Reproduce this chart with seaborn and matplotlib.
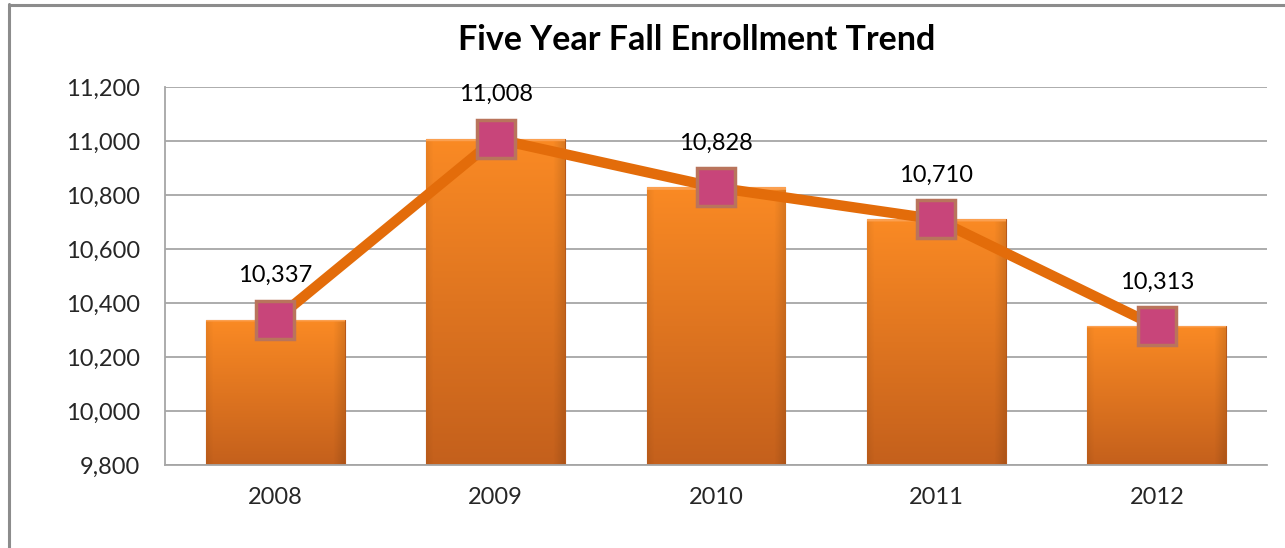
import matplotlib
matplotlib.use('Agg')
import matplotlib.pyplot as plt
import seaborn as sns
import numpy as np
from matplotlib.lines import Line2D
from matplotlib.ticker import FuncFormatter, FixedLocator

# data
years = ['2008', '2009', '2010', '2011', '2012']
enrollment = [10337, 11008, 10828, 10710, 10313]
y_ticks = [9800, 10000, 10200, 10400, 10600, 10800, 11000, 11200]

sns.set_style('white')
plt.rcParams['font.family'] = ['Lato', 'DejaVu Sans']

W, H = 1285, 548
fig = plt.figure(figsize=(W / 100, H / 100), dpi=100)
ax = fig.add_axes([165 / W, 1 - 465 / H, (1267 - 165) / W, (465 - 87) / H])

# bars
sns.barplot(x=years, y=enrollment, color='#F07F1E', width=0.63, ax=ax, zorder=2)
ymin, ymax = y_ticks[0], y_ticks[-1]

# gradient fill for the bars (lighter top, darker bottom, shaded sides)
top = np.array([250, 138, 36]) / 255
bot = np.array([196, 96, 28]) / 255
ny, nx = 300, 100
t = np.linspace(0, 1, ny)[:, None, None]
img = top * (1 - t) + bot * t
xx = np.linspace(0, 1, nx)
side = 1 - 0.12 * np.clip((xx - 0.92) / 0.08, 0, 1) - 0.06 * np.clip((0.05 - xx) / 0.05, 0, 1)
img = img * side[None, :, None]
img[:3] = np.array([251, 160, 80]) / 255
img = np.clip(img, 0, 1)
for patch in ax.patches:
    x0 = patch.get_x()
    w = patch.get_width()
    h = patch.get_y() + patch.get_height()
    patch.set_edgecolor('#B8591A')
    patch.set_linewidth(0.8)
    im = ax.imshow(img, extent=[x0, x0 + w, ymin, h], aspect='auto', zorder=2.1)
    im.set_clip_path(patch)

# trend line with square markers
sns.pointplot(x=years, y=enrollment, color='#E36C0A', markers='s',
              linestyles='-', errorbar=None, ax=ax)
line = ax.lines[-1]
line.set_linewidth(7.5)
line.set_markersize(28)
line.set_markerfacecolor('#C8457A')
line.set_markeredgecolor('#B9745C')
line.set_markeredgewidth(2.5)
line.set_zorder(5)

for i, v in enumerate(enrollment):
    ax.annotate(f'{v:,}', xy=(i, v), xytext=(0, 32), textcoords='offset points',
                ha='center', va='center', fontsize=17, color='black', zorder=6)

ax.set_xlim(-0.5, len(years) - 0.5)
ax.set_ylim(ymin, ymax)
ax.set_yticks(y_ticks)
ax.yaxis.set_major_formatter(FuncFormatter(lambda v, p: f'{v:,.0f}'))
ax.yaxis.grid(True, color='#A6A6A6', linewidth=1.3)
ax.set_axisbelow(True)
ax.set_xlabel('')
ax.set_ylabel('')

ax.xaxis.set_minor_locator(FixedLocator(np.arange(-0.5, len(years), 1.0)))
ax.tick_params(axis='x', which='major', length=0, pad=16, labelsize=17)
ax.tick_params(axis='x', which='minor', length=6, width=1.3, color='#A6A6A6', direction='out')
ax.tick_params(axis='y', length=6, width=1.3, color='#A6A6A6', direction='out',
               pad=12, labelsize=17)
for s in ['top', 'right']:
    ax.spines[s].set_visible(False)
for s in ['left', 'bottom']:
    ax.spines[s].set_color('#A6A6A6')
    ax.spines[s].set_linewidth(1.3)

fig.text(697 / W, 1 - 40 / H, 'Five Year Fall Enrollment Trend', ha='center', va='center',
         fontsize=24.5, fontweight='bold', color='black')

# outer frame
fig.add_artist(Line2D([8.5 / W, 8.5 / W], [0, 1 - 4 / H], color='#8C8C8C', linewidth=2.2))
fig.add_artist(Line2D([8.5 / W, 1], [1 - 4.5 / H, 1 - 4.5 / H], color='#8C8C8C', linewidth=2.2))

fig.savefig('out.png', dpi=100)
